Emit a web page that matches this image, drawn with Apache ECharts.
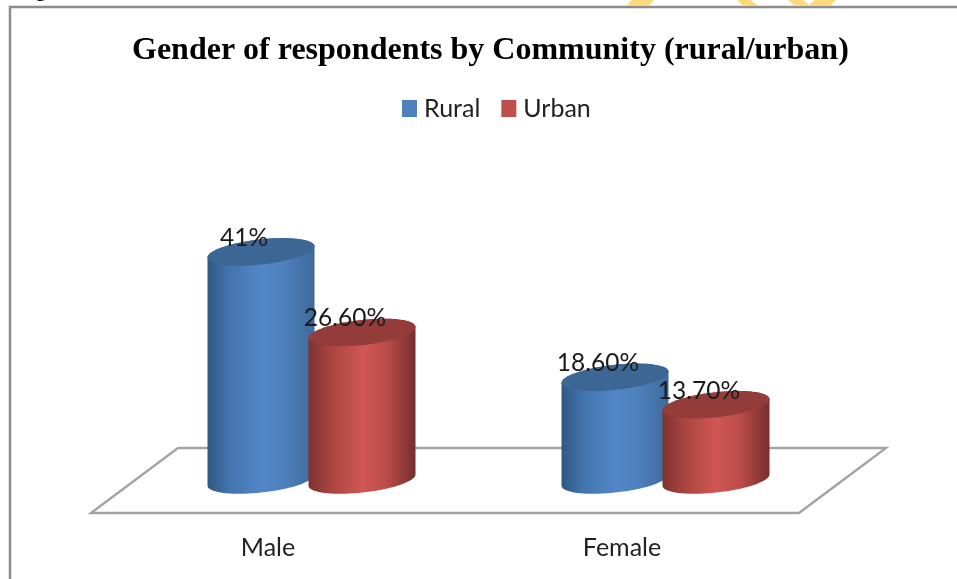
<!DOCTYPE html>
<html>
<head>
<meta charset="utf-8">
<style>html,body{margin:0;padding:0;background:#fff;}#c{width:957px;height:579px;}</style>
<script src="https://cdn.jsdelivr.net/npm/echarts@6/dist/echarts.min.js"></script>
</head>
<body>
<div id="c"></div>
<script>
const titleText = 'Gender of respondents by Community (rural/urban)';
const captionText = 'Figure 5.5';
const categories = ['Male', 'Female'];
const seriesNames = ['Rural', 'Urban'];
const ruralValues = [41, 18.6];
const urbanValues = [26.6, 13.7];
const ruralLabels = ['41%', '18.60%'];
const urbanLabels = ['26.60%', '13.70%'];

const DEPTH_X = 87, DEPTH_Y = 65;
const RX = 53.5, RY = 12.6, TILT = 0.105, OFFSET = 50.5;

const palette = {
  Rural: {legend: '#4f81bd', top: '#3c6694', stops: ['#2f5783', '#4274ad', '#5386c8', '#4d80bd', '#3e6a9b']},
  Urban: {legend: '#c0504d', top: '#943c39', stops: ['#7d322f', '#a84440', '#d05653', '#bd4d4a', '#762e2c']}
};

function arc(cx, cy, from, to, n) {
  const pts = [];
  for (let i = 0; i <= n; i++) {
    const t = from + (to - from) * i / n;
    pts.push([cx + RX * Math.cos(t), cy + RY * Math.sin(t) - TILT * RX * Math.cos(t)]);
  }
  return pts;
}

function cylinder(name, labels, sign) {
  const p = palette[name];
  return function (params, api) {
    const idx = api.value(0);
    const base = api.coord([idx, 0]);
    const top = api.coord([idx, api.value(1)]);
    const cx = base[0] + sign * OFFSET + DEPTH_X / 2;
    const by = base[1] - DEPTH_Y / 2 - 0.5;
    const ty = top[1] - DEPTH_Y / 2 + 1;
    const bodyPts = arc(cx, by, 0, Math.PI, 40).concat(arc(cx, ty, Math.PI, 2 * Math.PI, 40));
    const stops = p.stops.map(function (c, i) { return {offset: [0, 0.2, 0.5, 0.72, 1][i], color: c}; });
    return {
      type: 'group',
      children: [
        {type: 'polygon', shape: {points: bodyPts},
          style: {fill: new echarts.graphic.LinearGradient(0, 0, 1, 0, stops)}},
        {type: 'polygon', shape: {points: arc(cx, ty, 0, 2 * Math.PI, 80)}, style: {fill: p.top}},
        {type: 'text', x: cx - 17, y: ty - 14,
          style: {text: labels[idx], fill: '#1a1a1a', font: '24.5px Lato, sans-serif', align: 'center', verticalAlign: 'middle'}}
      ]
    };
  };
}

function floorItem(params, api) {
  const r = params.coordSys;
  const x0 = r.x, x1 = r.x + r.width, y0 = r.y + r.height;
  return {
    type: 'polygon',
    shape: {points: [[x0, y0], [x1, y0], [x1 + DEPTH_X, y0 - DEPTH_Y], [x0 + DEPTH_X, y0 - DEPTH_Y]]},
    style: {fill: '#ffffff', stroke: '#a3a3a3', lineWidth: 2.4}
  };
}

const chart = echarts.init(document.getElementById('c'), null, {renderer: 'canvas'});
chart.setOption({
  animation: false,
  backgroundColor: '#ffffff',
  title: {
    text: titleText, left: 127, top: 30,
    textStyle: {fontFamily: 'Liberation Serif', fontWeight: 'bold', fontSize: 32, color: '#000'}
  },
  legend: {
    data: seriesNames, left: 397, top: 91, itemWidth: 15, itemHeight: 17, itemGap: 21, icon: 'rect',
    textStyle: {fontFamily: 'Lato', fontSize: 25, color: '#222', padding: [0, 0, 0, 2]}
  },
  grid: {left: 91, width: 708, top: 233, height: 280},
  xAxis: {
    type: 'category', data: categories,
    axisLine: {show: false}, axisTick: {show: false}, splitLine: {show: false},
    axisLabel: {margin: 22, fontFamily: 'Lato', fontSize: 25, color: '#222'}
  },
  yAxis: {type: 'value', min: 0, max: 50, show: false},
  graphic: [
    {type: 'polyline', silent: true, z: 0, shape: {points: [[10, 579], [10, 7], [957, 7]]},
      style: {stroke: '#8c8c8c', lineWidth: 2.5, fill: null}},
    {type: 'text', x: 19, y: 2, z: 0, style: {text: captionText, font: 'bold 19px "Liberation Serif"', fill: '#000', verticalAlign: 'bottom'}},
    {type: 'polygon', z: 0, shape: {points: [[632, 0], [654, 0], [649, 6], [626, 6]]}, style: {fill: '#fdd97e'}},
    {type: 'polygon', z: 0, shape: {points: [[737, 0], [750, 0], [759, 6], [743, 6]]}, style: {fill: '#fdd97e'}},
    {type: 'polygon', z: 0, shape: {points: [[788, 0], [803, 0], [809, 5], [815, 0], [836, 0], [830, 6], [795, 6]]}, style: {fill: '#fdd97e'}}
  ],
  series: [
    {type: 'custom', name: 'floor', data: [[0, 0]], renderItem: floorItem, silent: true, clip: false, z: 1},
    {type: 'custom', name: seriesNames[0], z: 2, clip: false,
      itemStyle: {color: palette.Rural.legend},
      data: ruralValues.map(function (v, i) { return [i, v]; }),
      encode: {x: 0, y: 1},
      renderItem: cylinder('Rural', ruralLabels, -1)},
    {type: 'custom', name: seriesNames[1], z: 3, clip: false,
      itemStyle: {color: palette.Urban.legend},
      data: urbanValues.map(function (v, i) { return [i, v]; }),
      encode: {x: 0, y: 1},
      renderItem: cylinder('Urban', urbanLabels, 1)}
  ]
});
</script>
</body>
</html>
